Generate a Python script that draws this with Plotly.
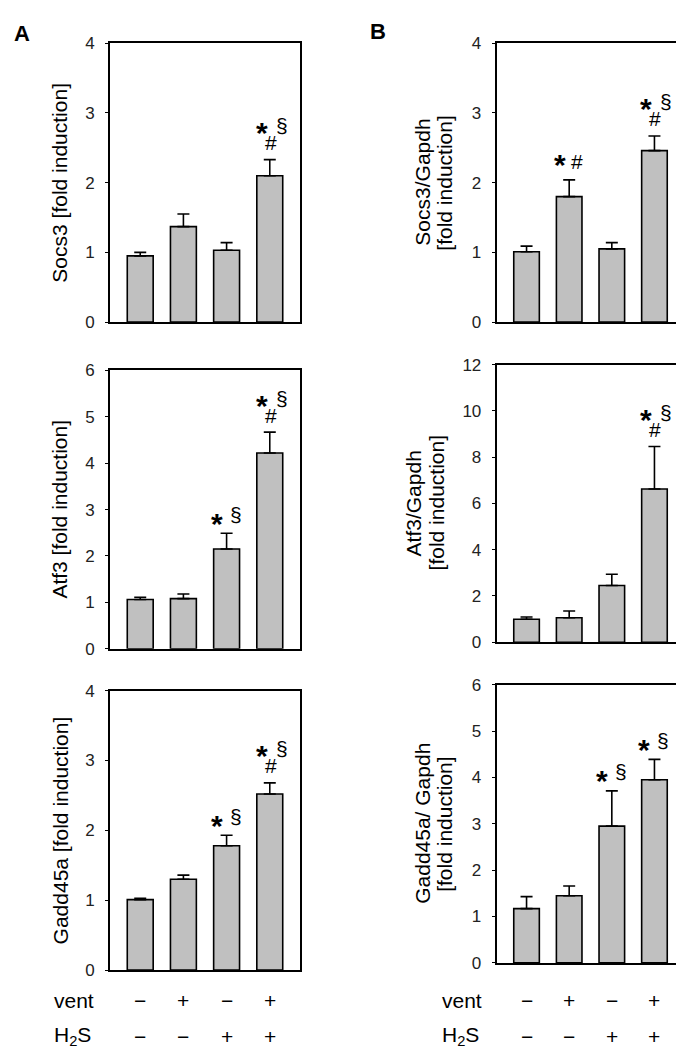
import plotly.graph_objects as go

# ---------------- data ----------------
groups = [0, 1, 2, 3]
vent_signs = ["\u2212", "+", "\u2212", "+"]
h2s_signs = ["\u2212", "\u2212", "+", "+"]

socs3_mean = [0.95, 1.37, 1.03, 2.10]
socs3_err = [0.05, 0.18, 0.11, 0.23]
atf3_mean = [1.06, 1.08, 2.15, 4.22]
atf3_err = [0.05, 0.10, 0.34, 0.45]
gadd45a_mean = [1.01, 1.30, 1.78, 2.52]
gadd45a_err = [0.02, 0.06, 0.15, 0.16]

socs3_gapdh_mean = [1.01, 1.80, 1.05, 2.46]
socs3_gapdh_err = [0.08, 0.24, 0.09, 0.21]
atf3_gapdh_mean = [0.99, 1.06, 2.45, 6.62]
atf3_gapdh_err = [0.10, 0.29, 0.49, 1.84]
gadd45a_gapdh_mean = [1.17, 1.45, 2.95, 3.95]
gadd45a_gapdh_err = [0.26, 0.21, 0.76, 0.44]

socs3_marks = ["", "", "", "*#§"]
atf3_marks = ["", "", "*§", "*#§"]
gadd45a_marks = ["", "", "*§", "*#§"]
socs3_gapdh_marks = ["", "*#", "", "*#§"]
atf3_gapdh_marks = ["", "", "", "*#§"]
gadd45a_gapdh_marks = ["", "", "*§", "*§"]

titles_a = ["Socs3 [fold induction]", "Atf3 [fold induction]", "Gadd45a [fold induction]"]
titles_b = [["Socs3/Gapdh", "[fold induction]"],
            ["Atf3/Gapdh", "[fold induction]"],
            ["Gadd45a/ Gapdh", "[fold induction]"]]

y_max = [4, 6, 4, 4, 12, 6]
y_dtick = [1, 1, 1, 1, 2, 1]

# ---------------- layout geometry (pixels) ----------------
W, H = 684, 1052
FONT = "Arial, Liberation Sans, sans-serif"

panels = [
    # (mean, err, marks, x-left, x-right, y-top, y-bottom)
    (socs3_mean, socs3_err, socs3_marks, 102, 292, 26.7, 310.7),
    (atf3_mean, atf3_err, atf3_marks, 102, 292, 360, 643.3),
    (gadd45a_mean, gadd45a_err, gadd45a_marks, 102, 292, 686, 970.7),
    (socs3_gapdh_mean, socs3_gapdh_err, socs3_gapdh_marks, 488.7, 676.3, 26.7, 310.7),
    (atf3_gapdh_mean, atf3_gapdh_err, atf3_gapdh_marks, 488.7, 676.3, 354, 636.7),
    (gadd45a_gapdh_mean, gadd45a_gapdh_err, gadd45a_gapdh_marks, 488.7, 676.3, 680, 963.3),
]

# glyph offsets (dx, dy in px relative to error-bar top) for each mark pattern
mark_offsets = {
    "*#§": {"*": (-8, 34), "#": (1, 17), "§": (12, 32)},
    "*§": {"*": (-10, 17), "§": (9, 17)},
    "*#": {"*": (-9, 22), "#": (8, 18)},
}
mark_fonts = {"*": 30, "#": 21, "§": 21}
glyph_corr = {"*": -7, "#": 0, "§": 2}

fig = go.Figure()
annotations = []
layout_axes = {}

for i, (mean, err, marks, xl, xr, yt, yb) in enumerate(panels):
    n = i + 1
    xa = "x" if n == 1 else f"x{n}"
    ya = "y" if n == 1 else f"y{n}"
    fig.add_trace(go.Bar(
        x=groups, y=mean, xaxis=xa, yaxis=ya, width=0.6,
        marker=dict(color="#c0c0c0", line=dict(color="black", width=1.6)),
        error_y=dict(type="data", array=err, arrayminus=[0] * len(err), symmetric=False,
                     color="black", thickness=1.6, width=6),
        showlegend=False, hoverinfo="skip",
    ))
    xkey = "xaxis" if n == 1 else f"xaxis{n}"
    ykey = "yaxis" if n == 1 else f"yaxis{n}"
    layout_axes[xkey] = dict(
        domain=[xl / W, xr / W], anchor=ya, range=[-0.7, 3.7],
        showticklabels=False, ticks="", showgrid=False, zeroline=False,
        showline=True, linecolor="black", linewidth=2, mirror=True,
    )
    layout_axes[ykey] = dict(
        domain=[1 - yb / H, 1 - yt / H], anchor=xa, range=[0, y_max[i]],
        dtick=y_dtick[i], tick0=0, showgrid=False, zeroline=False,
        showline=True, linecolor="black", linewidth=2, mirror=True,
        ticks="outside", ticklen=3, tickwidth=1, tickcolor="black",
        ticklabelstandoff=7,
        tickfont=dict(family=FONT, size=17, color="#222"),
    )
    # significance marks
    for g, m in zip(groups, marks):
        if not m:
            continue
        offs = mark_offsets[m]
        for ch in m:
            dx, dy = offs[ch]
            txt = "<b>*</b>" if ch == "*" else ch
            annotations.append(dict(
                x=g, y=mean[g] + err[g], xref=xa, yref=ya, text=txt, showarrow=False,
                xanchor="center", yanchor="middle",
                xshift=dx, yshift=dy + glyph_corr[ch],
                font=dict(family=FONT, size=mark_fonts[ch], color="black"),
            ))

# y-axis titles
for k, (yt, yb) in enumerate([(26.7, 310.7), (360, 643.3), (686, 970.7)]):
    annotations.append(dict(
        x=52 / W, y=1 - (yt + yb) / 2 / H, xref="paper", yref="paper", text=titles_a[k],
        textangle=-90, showarrow=False, xanchor="center", yanchor="middle",
        font=dict(family=FONT, size=21, color="black"),
    ))
b_title_x = [(415, 437), (405, 428), (415, 437)]
b_boxes = [(26.7, 310.7), (354, 636.7), (680, 963.3)]
for k in range(3):
    yt, yb = b_boxes[k]
    for line, xp in zip(titles_b[k], b_title_x[k]):
        annotations.append(dict(
            x=xp / W, y=1 - (yt + yb) / 2 / H, xref="paper", yref="paper", text=line,
            textangle=-90, showarrow=False, xanchor="center", yanchor="middle",
            font=dict(family=FONT, size=21, color="black"),
        ))

# treatment rows under bottom panels
for xa, left in [("x3", 44), ("x6", 432)]:
    annotations.append(dict(x=left / W, y=1 - 1002 / H, xref="paper", yref="paper", text="vent",
                            showarrow=False, xanchor="left", yanchor="middle",
                            font=dict(family=FONT, size=21, color="black")))
    annotations.append(dict(x=left / W, y=1 - 1038 / H, xref="paper", yref="paper",
                            text="H<sub>2</sub>S",
                            showarrow=False, xanchor="left", yanchor="middle",
                            font=dict(family=FONT, size=21, color="black")))
    for g in groups:
        annotations.append(dict(x=g, y=1 - 1002 / H, xref=xa, yref="paper", text=vent_signs[g],
                                showarrow=False, xanchor="center", yanchor="middle",
                                font=dict(family=FONT, size=21, color="black")))
        annotations.append(dict(x=g, y=1 - 1038 / H, xref=xa, yref="paper", text=h2s_signs[g],
                                showarrow=False, xanchor="center", yanchor="middle",
                                font=dict(family=FONT, size=21, color="black")))

# panel letters
annotations.append(dict(x=13.5 / W, y=1 - 16.5 / H, xref="paper", yref="paper", text="<b>A</b>",
                        showarrow=False, xanchor="center", yanchor="middle",
                        font=dict(family=FONT, size=22, color="black")))
annotations.append(dict(x=370 / W, y=1 - 15 / H, xref="paper", yref="paper", text="<b>B</b>",
                        showarrow=False, xanchor="center", yanchor="middle",
                        font=dict(family=FONT, size=22, color="black")))

fig.update_layout(
    width=W, height=H, margin=dict(l=0, r=0, t=0, b=0),
    paper_bgcolor="white", plot_bgcolor="white",
    annotations=annotations, bargap=0.4,
    **layout_axes,
)

fig.write_html("out.html")
